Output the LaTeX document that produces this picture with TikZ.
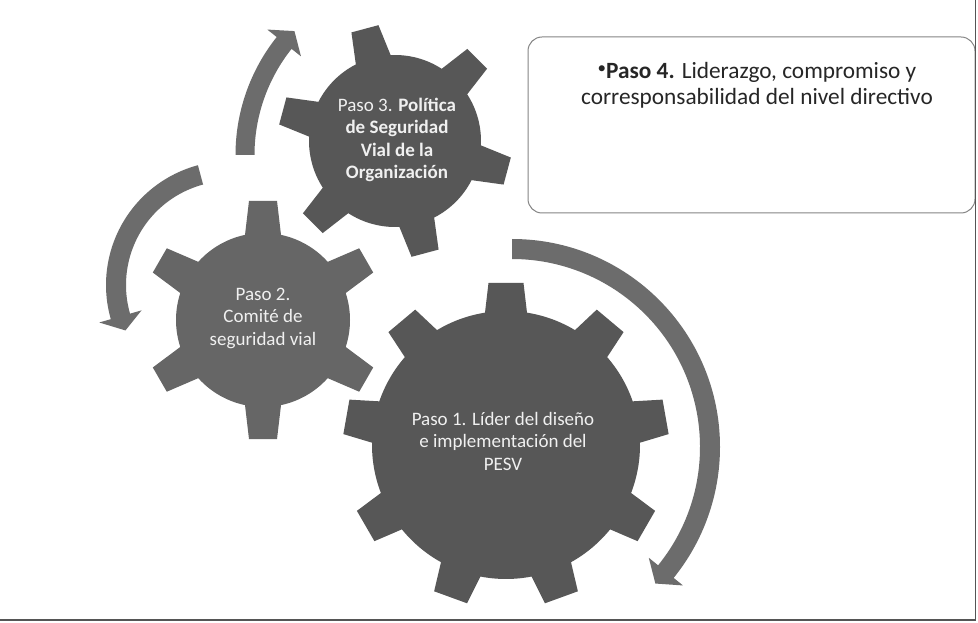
\documentclass[tikz,border=0pt]{standalone}
\usepackage{fontspec}
\setmainfont{Carlito}
\definecolor{gearA}{HTML}{575757}
\definecolor{gearB}{HTML}{666666}
\definecolor{arrowc}{HTML}{6C6C6C}
\definecolor{textc}{HTML}{F0F0F0}
\definecolor{boxline}{HTML}{858585}
\definecolor{framec}{HTML}{555555}
% #1 center, #2 teeth, #3 offset, #4 body radius, #5 tip radius, #6 base half width, #7 tip half width, #8 style
\newcommand\mygear[8]{%
  \pgfmathsetmacro\gstep{360/#2}%
  \pgfmathsetmacro\ghb{asin(#6/#4)}%
  \pgfmathsetmacro\ght{asin(#7/#5)}%
  \pgfmathtruncatemacro\glast{#2-1}%
  \fill[#8,shift={(#1)}] ({#3-\ghb}:#4)
    \foreach \k in {0,...,\glast}{
      -- ({#3+\k*\gstep-\ghb}:#4) -- ({#3+\k*\gstep-\ght}:#5)
      -- ({#3+\k*\gstep+\ght}:#5) -- ({#3+\k*\gstep+\ghb}:#4)
      arc[start angle={#3+\k*\gstep+\ghb}, end angle={#3+(\k+1)*\gstep-\ghb}, radius=#4]
    } -- cycle;}
% #1 center, #2 radius, #3 start angle, #4 head angle, #5 tip angle, #6 half width, #7 wing, #8 style
\newcommand\myarrow[8]{%
  \fill[#8,shift={(#1)}] ({#3}:{#2+#6})
    arc[start angle={#3}, end angle={#4}, radius={#2+#6}]
    -- ({#4}:{#2+#6+#7}) -- ({#5}:{#2}) -- ({#4}:{#2-#6-#7}) -- ({#4}:{#2-#6})
    arc[start angle={#4}, end angle={#3}, radius={#2-#6}] -- cycle;}
\begin{document}
\begin{tikzpicture}[x=1pt,y=1pt,
  gtext/.style={text=textc, align=center, inner sep=0pt,
    font=\fontsize{19}{22.5}\selectfont},
  boxstyle/.style={draw=boxline, line width=1pt, rounded corners=14pt,
    minimum width=447pt, minimum height=176pt, inner sep=0pt},
  btext/.style={align=center, inner sep=0pt, text=black!85,
    font=\fontsize{23.3}{26}\selectfont},
  framestyle/.style={draw=framec, line width=1.3pt}]
\useasboundingbox (0,0) rectangle (978,622);
\fill[white] (0,0) rectangle (978,622);
% arrows
\myarrow{425,467}{180}{180}{141.5}{136.5}{9.5}{12}{arrowc}
\myarrow{230,337}{114}{105}{196}{203.5}{10}{12}{arrowc}
\myarrow{512,175}{198}{90}{-39}{-43.6}{10}{12}{arrowc}
% gears
\mygear{506,177}{9}{10}{134}{163}{21}{17.5}{gearA}
\mygear{263,302}{6}{30}{87}{120}{18}{14}{gearB}
\mygear{395,481}{6}{45}{86}{117}{18}{14}{gearA}
% gear labels
\node[gtext] (g1) at (503,181) {Paso 1. Líder del diseño\\e implementación del\\PESV};
\node[gtext] (g2) at (263,304) {Paso 2.\\Comité de\\seguridad vial};
\node[gtext] (g3) at (397,482) {Paso 3. \textbf{Política}\\\textbf{de Seguridad}\\\textbf{Vial de la}\\\textbf{Organización}};
% text box
\node[boxstyle] (box) at (751.5,497) {};
\node[btext] (p4) at (757,537) {\raisebox{0.22em}{\fontsize{17}{17}\selectfont•}\textbf{Paso 4.} Liderazgo, compromiso y\\corresponsabilidad del nivel directivo};
% frame
\coordinate (fa) at (0,2);
\coordinate (fb) at (975.5,2);
\coordinate (fc) at (975.5,622);
\draw[framestyle] (fa) -- (fb) -- (fc);
\end{tikzpicture}
\end{document}
